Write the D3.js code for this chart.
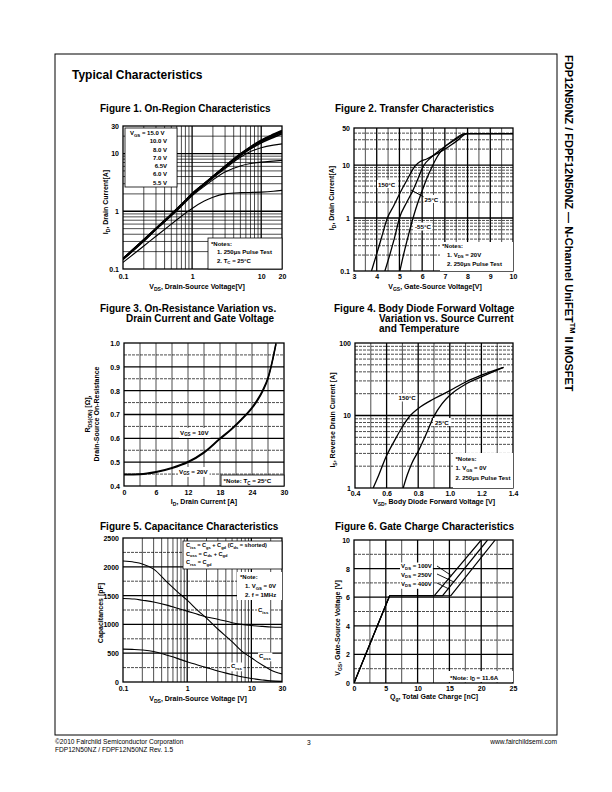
<!DOCTYPE html>
<html><head><meta charset="utf-8">
<script src="https://cdn.jsdelivr.net/npm/d3@7"></script>
<style>
body{margin:0;background:#fff;}
svg{display:block;font-family:"Liberation Sans",Arial,Helvetica,sans-serif;}
</style></head><body>
<svg id="page" width="612" height="792"></svg>
<script>
// ---------------- DATA ----------------
// Figure 1: On-Region Characteristics (log-log)
const fig1Vds  = [0.1,0.2,0.3,0.5,0.7,1,1.5,2,3,5,7,10,15,20];
const fig1Id15 = [0.15,0.32,0.5,0.88,1.3,2.0,3.0,4.0,6.0,9.8,13,17,21.5,25];
const fig1Id10 = [0.15,0.32,0.5,0.88,1.3,2.0,3.0,4.0,6.0,9.7,12.8,16.7,21,24.3];
const fig1Id8  = [0.15,0.32,0.5,0.87,1.29,1.98,2.95,3.95,5.9,9.5,12.5,16.2,20,23.3];
const fig1Id7  = [0.148,0.31,0.49,0.86,1.28,1.96,2.9,3.9,5.8,9.2,12,15.3,19,22];
const fig1Id65 = [0.146,0.31,0.49,0.85,1.26,1.93,2.85,3.75,5.5,8.6,10.8,12.6,14,14.7];
const fig1Id60 = [0.145,0.3,0.48,0.83,1.22,1.85,2.7,3.5,4.8,6.1,6.7,7.1,7.4,7.6];
const fig1Id55 = [0.13,0.25,0.37,0.6,0.82,1.12,1.5,1.75,2.0,2.1,2.12,2.15,2.22,2.3];
const fig1Legend = ["10.0 V","8.0 V","7.0 V","6.5V","6.0 V","5.5 V"];
const fig1XTicks = [0.1,1,10,20];
const fig1YTicks = [0.1,1,10,30];

// Figure 2: Transfer Characteristics
const fig2Vgs150 = [3.77,4.0,4.2,4.47,4.75,5.03,5.35,5.68,5.9,6.2,6.6,7.0,7.5,8.0,10];
const fig2Id150  = [0.1,0.21,0.41,1.0,1.7,3.0,5.4,9.5,11.5,13,16,20,28,39,39];
const fig2Vgs25  = [4.36,4.6,4.8,5.0,5.3,5.56,5.8,6.05,6.4,6.85,7.4,8.0,10];
const fig2Id25   = [0.1,0.22,0.45,1.0,1.9,3.1,5.3,9.5,14,20,29,39,39];
const fig2Vgs55  = [5.02,5.2,5.4,5.6,5.8,5.97,6.2,6.42,6.65,6.9,7.35,7.9,10];
const fig2Id55   = [0.1,0.22,0.48,1.0,1.9,3.0,5.5,9,14,20,29,39,39];
const fig2XTicks = [3,4,5,6,7,8,9,10];
const fig2YTicks = [0.1,1,10,50];

// Figure 3: On-Resistance vs Drain Current
const fig3Id  = [0,3,6,9,12,15,18,20,22,24,25,26,27,27.8,28.5];
const fig3R10 = [0.45,0.451,0.46,0.477,0.502,0.542,0.6,0.637,0.68,0.73,0.762,0.802,0.855,0.925,1.0];
const fig3R20 = [0.447,0.448,0.457,0.474,0.499,0.539,0.597,0.634,0.677,0.726,0.757,0.797,0.85,0.92,0.995];
const fig3XTicks = [0,6,12,18,24,30];
const fig3YTicks = [0.4,0.5,0.6,0.7,0.8,0.9,1.0];

// Figure 4: Body Diode Forward Voltage
const fig4Vsd150 = [0.515,0.55,0.6,0.65,0.7,0.75,0.8,0.9,1.0,1.1,1.2,1.34];
const fig4Is150  = [1,1.5,2.8,4.5,7,10,12.5,17,22,29,36,46];
const fig4Vsd25  = [0.705,0.73,0.76,0.8,0.85,0.9,0.95,1.0,1.1,1.2,1.34];
const fig4Is25   = [1,1.5,2.2,3.2,5.5,9.8,14.5,19,27,34,46];
const fig4XTicks = [0.4,0.6,0.8,1.0,1.2,1.4];
const fig4YTicks = [1,10,100];

// Figure 5: Capacitance Characteristics
const fig5Vds  = [0.1,0.15,0.2,0.3,0.5,0.7,1,1.5,2,3,5,7,10,15,20,30];
const fig5Ciss = [1450,1440,1420,1390,1330,1280,1230,1170,1130,1090,1030,1000,980,965,955,950];
const fig5Coss = [2100,2080,2050,1960,1720,1570,1420,1230,1110,920,700,540,420,290,210,140];
const fig5Crss = [570,565,555,530,460,410,350,290,250,190,130,90,60,35,20,10];
const fig5XTicks = [0.1,1,10,30];
const fig5YTicks = [0,500,1000,1500,2000,2500];

// Figure 6: Gate Charge Characteristics
const fig6Qg100  = [0,5.6,12.6,20.0];
const fig6Vgs100 = [0,6.1,6.1,10];
const fig6Qg250  = [0,5.6,13.9,21.0];
const fig6Vgs250 = [0,6.1,6.1,10];
const fig6Qg400  = [0,5.6,15.2,22.2];
const fig6Vgs400 = [0,6.1,6.1,10];
const fig6XTicks = [0,5,10,15,20,25];
const fig6YTicks = [0,2,4,6,8,10];

// ---------------- HELPERS ----------------
const svg = d3.select("#page");

function rich(t, str, fs) {
  const parts = str.split(/(_\{[^}]*\}|\^\{[^}]*\})/).filter(s => s.length);
  let shift = 0;
  parts.forEach(p => {
    let txt = p, target = 0, size = fs;
    if (p.startsWith("_{")) { txt = p.slice(2, -1); target = fs * 0.3; size = fs * 0.72; }
    else if (p.startsWith("^{")) { txt = p.slice(2, -1); target = -fs * 0.42; size = fs * 0.68; }
    t.append("tspan").attr("dy", target - shift).attr("font-size", size).text(txt);
    shift = target;
  });
  return t;
}
function txt(g, x, y, str, fs, opts = {}) {
  const t = g.append("text").attr("x", x).attr("y", y)
    .attr("font-size", fs).attr("font-weight", opts.weight || "bold")
    .attr("text-anchor", opts.anchor || "start").attr("fill", "#000");
  if (opts.rotate) t.attr("transform", `rotate(${opts.rotate},${x},${y})`);
  rich(t, str, fs);
  return t;
}
function boxTxt(g, x, y, str, fs, pad = 1) {
  const t = txt(g, x, y, str, fs);
  const bb = t.node().getBBox();
  g.insert("rect", () => t.node()).attr("x", bb.x - pad).attr("y", bb.y - 0.5)
    .attr("width", bb.width + 2 * pad).attr("height", bb.height + 1).attr("fill", "#fff");
  return t;
}
function logLines(lo, hi) {
  const out = [];
  for (let k = -3; k <= 4; k++) for (let m = 1; m <= 9; m++) {
    const v = +(m * Math.pow(10, k)).toPrecision(6);
    if (v > lo * 1.0001 && v < hi * 0.9999) out.push(v);
  }
  return out;
}
function range(a, b, s) { const o = []; for (let v = a; v <= b + 1e-9; v += s) o.push(+v.toFixed(6)); return o; }

let clipId = 0;
function panel(c) {
  const g = svg.append("g");
  const x = (c.xlog ? d3.scaleLog() : d3.scaleLinear()).domain(c.xd).range([c.l, c.r]);
  const y = (c.ylog ? d3.scaleLog() : d3.scaleLinear()).domain(c.yd).range([c.b, c.t]);
  const grid = g.append("g");
  const hl = (v, w, dash) => grid.append("line").attr("x1", c.l).attr("x2", c.r).attr("y1", y(v)).attr("y2", y(v))
    .attr("stroke", "#000").attr("stroke-width", w).attr("stroke-dasharray", dash || null);
  const vl = (v, w, dash) => grid.append("line").attr("y1", c.t).attr("y2", c.b).attr("x1", x(v)).attr("x2", x(v))
    .attr("stroke", "#000").attr("stroke-width", w).attr("stroke-dasharray", dash || null);
  (c.vMinor || []).forEach(v => vl(v, 0.7, c.vDash));
  (c.hMinor || []).forEach(v => hl(v, 0.7, c.hDash));
  (c.vMajor || []).forEach(v => vl(v, 1.3));
  (c.hMajor || []).forEach(v => hl(v, 1.3));
  g.append("rect").attr("x", c.l).attr("y", c.t).attr("width", c.r - c.l).attr("height", c.b - c.t)
    .attr("fill", "none").attr("stroke", "#000").attr("stroke-width", 1.3);
  const id = "clip" + (clipId++);
  g.append("clipPath").attr("id", id).append("rect").attr("x", c.l).attr("y", c.t)
    .attr("width", c.r - c.l).attr("height", c.b - c.t);
  const plot = g.append("g").attr("clip-path", `url(#${id})`);
  const ax = g.append("g").attr("transform", `translate(0,${c.b})`)
    .call(d3.axisBottom(x).tickValues(c.xt).tickFormat(c.xf || (d => d)).tickSize(0));
  ax.select(".domain").remove();
  ax.selectAll("text").attr("y", c.xtY - c.b).attr("dy", 0).attr("font-size", 7).attr("font-weight", "bold")
    .attr("font-family", null).attr("fill", "#000");
  const ay = g.append("g").attr("transform", `translate(${c.l},0)`)
    .call(d3.axisLeft(y).tickValues(c.yt).tickFormat(c.yf || (d => d)).tickSize(0));
  ay.select(".domain").remove();
  ay.selectAll("text").attr("x", -(c.ytGap || 4)).attr("dy", "0.35em").attr("font-size", 7).attr("font-weight", "bold")
    .attr("font-family", null).attr("fill", "#000");
  return { g, x, y, plot, c };
}
function curve(p, xs, ys, w = 1.2, interp = d3.curveMonotoneX) {
  const pts = xs.map((v, i) => [v, ys[i]]);
  p.plot.append("path").datum(pts)
    .attr("d", d3.line().x(d => p.x(d[0])).y(d => p.y(d[1])).curve(interp))
    .attr("fill", "none").attr("stroke", "#000").attr("stroke-width", w).attr("stroke-linejoin", "round");
}
function whiteBox(g, x, y, w, h, stroke) {
  return g.append("rect").attr("x", x).attr("y", y).attr("width", w).attr("height", h)
    .attr("fill", "#fff").attr("stroke", stroke ? "#000" : "none").attr("stroke-width", 0.8);
}

// ---------------- PAGE ----------------
svg.append("rect").attr("width", 612).attr("height", 792).attr("fill", "#fff");
svg.append("rect").attr("x", 55).attr("y", 54).attr("width", 502).attr("height", 681)
  .attr("fill", "none").attr("stroke", "#000").attr("stroke-width", 1);
txt(svg, 72, 79, "Typical Characteristics", 12);
{
  const t = svg.append("text").attr("transform", "translate(565,55) rotate(90)")
    .attr("font-size", 11).attr("font-weight", "bold");
  rich(t, "FDP12N50NZ / FDPF12N50NZ — N-Channel UniFET^{TM} II MOSFET", 11);
}
txt(svg, 55, 744, "©2010 Fairchild Semiconductor Corporation", 6.6, { weight: "normal" });
txt(svg, 55, 752, "FDP12N50NZ / FDPF12N50NZ Rev. 1.5", 6.6, { weight: "normal" });
txt(svg, 307, 745, "3", 6.6, { weight: "normal" });
txt(svg, 557, 744, "www.fairchildsemi.com", 6.6, { weight: "normal", anchor: "end" });

// Titles
txt(svg, 100, 112, "Figure 1. On-Region Characteristics", 10);
txt(svg, 335, 112, "Figure 2. Transfer Characteristics", 10);
txt(svg, 100, 312, "Figure 3. On-Resistance Variation vs.", 10);
txt(svg, 126, 322, "Drain Current and Gate Voltage", 10);
txt(svg, 334, 312, "Figure 4. Body Diode Forward Voltage", 10);
txt(svg, 379, 322, "Variation vs. Source Current", 10);
txt(svg, 379, 332, "and Temperature", 10);
txt(svg, 100, 530, "Figure 5. Capacitance Characteristics", 10);
txt(svg, 335, 530, "Figure 6. Gate Charge Characteristics", 10);

// ---------------- FIGURE 1 ----------------
{
  const p = panel({ l: 123, r: 282, t: 126, b: 269, xlog: true, ylog: true, xd: [0.1, 20], yd: [0.1, 30],
    vMinor: logLines(0.1, 20).filter(v => v !== 1 && v !== 10), vMajor: [1, 10],
    hMinor: logLines(0.1, 30).filter(v => v !== 1 && v !== 10), hMajor: [1, 10],
    xt: fig1XTicks, yt: fig1YTicks, xtY: 279 });
  [fig1Id15, fig1Id10, fig1Id8].forEach(s => curve(p, fig1Vds, s, 1.8));
  curve(p, fig1Vds, fig1Id7, 1.5);
  curve(p, fig1Vds, fig1Id65, 1.1);
  curve(p, fig1Vds, fig1Id60, 1.1);
  curve(p, fig1Vds, fig1Id55, 1.1);
  whiteBox(p.g, 125, 128, 52, 59, true);
  txt(p.g, 130, 135, "V_{GS} = 15.0 V", 6);
  fig1Legend.forEach((s, i) => txt(p.g, 167, 143.3 + i * 8.25, s, 6, { anchor: "end" }));
  whiteBox(p.g, 208, 238, 74, 31, true);
  txt(p.g, 211, 245.5, "*Notes:", 6);
  txt(p.g, 217, 254, "1. 250μs Pulse Test", 6);
  txt(p.g, 217, 262.5, "2. T_{C} = 25°C", 6);
  txt(svg, 197, 289, "V_{DS}, Drain-Source Voltage[V]", 7, { anchor: "middle" });
  txt(svg, 107.5, 202, "I_{D}, Drain Current[A]", 7, { anchor: "middle", rotate: -90 });
}

// ---------------- FIGURE 2 ----------------
{
  const p = panel({ l: 354, r: 513, t: 128, b: 271, ylog: true, xd: [3, 10], yd: [0.1, 50],
    vMinor: range(3.5, 9.5, 1), vMajor: range(4, 9, 1),
    hMinor: logLines(0.1, 50).filter(v => v !== 1 && v !== 10), hMajor: [1, 10], hDash: "3,1",
    xt: fig2XTicks, yt: fig2YTicks, xtY: 279 });
  curve(p, fig2Vgs150, fig2Id150, 1.3);
  curve(p, fig2Vgs25, fig2Id25, 1.3);
  curve(p, fig2Vgs55, fig2Id55, 1.3);
  p.g.append("line").attr("x1", 411).attr("y1", 190).attr("x2", 424).attr("y2", 197)
    .attr("stroke", "#000").attr("stroke-width", 1);
  boxTxt(p.g, 378, 186.5, "150°C", 6.2);
  boxTxt(p.g, 424.5, 201.5, "25°C", 6.2);
  boxTxt(p.g, 415, 229, "-55°C", 6.2);
  whiteBox(p.g, 440, 242, 73, 29, false);
  txt(p.g, 442, 248, "*Notes:", 6);
  txt(p.g, 447, 256.5, "1. V_{DS} = 20V", 6);
  txt(p.g, 447, 265.5, "2. 250μs Pulse Test", 6);
  txt(svg, 435, 289, "V_{GS}, Gate-Source Voltage[V]", 7, { anchor: "middle" });
  txt(svg, 334, 198, "I_{D}, Drain Current[A]", 7, { anchor: "middle", rotate: -90 });
}

// ---------------- FIGURE 3 ----------------
{
  const p = panel({ l: 124, r: 284, t: 343, b: 486, xd: [0, 30], yd: [0.4, 1.0],
    vMinor: range(3, 27, 3), vMajor: [],
    hMinor: range(0.45, 0.95, 0.1), hMajor: range(0.5, 0.9, 0.1), hDash: "3,1",
    xt: fig3XTicks, yt: fig3YTicks, yf: d3.format(".1f"), xtY: 495 });
  curve(p, fig3Id, fig3R10, 1.4);
  curve(p, fig3Id, fig3R20, 1.4);
  boxTxt(p.g, 180, 434.5, "V_{GS} = 10V", 6.2);
  boxTxt(p.g, 179, 473.5, "V_{GS} = 20V", 6.2);
  whiteBox(p.g, 221, 475, 63, 11, true);
  txt(p.g, 223.5, 483, "*Note: T_{C} = 25°C", 6.2);
  txt(svg, 204, 504, "I_{D}, Drain Current [A]", 7, { anchor: "middle" });
  txt(svg, 90, 414, "R_{DS(ON)} [Ω],", 7, { anchor: "middle", rotate: -90 });
  txt(svg, 98.5, 414, "Drain-Source On-Resistance", 7, { anchor: "middle", rotate: -90 });
}

// ---------------- FIGURE 4 ----------------
{
  const p = panel({ l: 355, r: 513, t: 343, b: 488, ylog: true, xd: [0.4, 1.4], yd: [1, 100],
    vMinor: [0.5, 0.7, 0.9, 1.1, 1.3], vMajor: [0.6, 0.8, 1.0, 1.2],
    hMinor: logLines(1, 100).filter(v => v !== 10), hMajor: [10], hDash: "3,1",
    xt: fig4XTicks, yt: fig4YTicks, xf: d3.format(".1f"), xtY: 496 });
  curve(p, fig4Vsd150, fig4Is150, 1.3);
  curve(p, fig4Vsd25, fig4Is25, 1.3);
  boxTxt(p.g, 398.5, 400, "150°C", 6.2);
  boxTxt(p.g, 435, 424.5, "25°C", 6.2, 2);
  whiteBox(p.g, 453, 453, 60, 35, false);
  txt(p.g, 455.5, 460.5, "*Notes:", 6);
  txt(p.g, 455.5, 470, "1. V_{GS} = 0V", 6);
  txt(p.g, 455.5, 480, "2. 250μs Pulse Test", 6);
  txt(svg, 434, 504, "V_{SD}, Body Diode Forward Voltage [V]", 7, { anchor: "middle" });
  txt(svg, 335, 420, "I_{S}, Reverse Drain Current [A]", 7, { anchor: "middle", rotate: -90 });
}

// ---------------- FIGURE 5 ----------------
{
  const p = panel({ l: 123, r: 282, t: 538, b: 682, xlog: true, xd: [0.1, 30], yd: [0, 2500],
    vMinor: logLines(0.1, 30).filter(v => v !== 1 && v !== 10), vMajor: [1, 10],
    hMinor: range(250, 2250, 500), hMajor: range(500, 2000, 500), hDash: "3,1",
    xt: fig5XTicks, yt: fig5YTicks, xtY: 691 });
  curve(p, fig5Vds, fig5Ciss, 1.1);
  curve(p, fig5Vds, fig5Coss, 1.1);
  curve(p, fig5Vds, fig5Crss, 1.1);
  whiteBox(p.g, 183, 541, 99, 28, true);
  txt(p.g, 186, 547, "C_{iss} = C_{gs} + C_{gd} (C_{ds} = shorted)", 5.6);
  txt(p.g, 186, 555.5, "C_{oss} = C_{ds} + C_{gd}", 5.6);
  txt(p.g, 186, 564, "C_{rss} = C_{gd}", 5.6);
  whiteBox(p.g, 237, 572, 45, 28, false);
  txt(p.g, 240, 579, "*Note:", 6);
  txt(p.g, 245, 588, "1. V_{GS} = 0V", 6);
  txt(p.g, 245, 597, "2. f = 1MHz", 6);
  boxTxt(p.g, 258, 612, "C_{iss}", 6);
  boxTxt(p.g, 259, 658, "C_{oss}", 6);
  boxTxt(p.g, 231, 668, "C_{rss}", 6);
  txt(svg, 198, 701, "V_{DS}, Drain-Source Voltage [V]", 7, { anchor: "middle" });
  txt(svg, 102.5, 613, "Capacitances [pF]", 7, { anchor: "middle", rotate: -90 });
}

// ---------------- FIGURE 6 ----------------
{
  const p = panel({ l: 354, r: 513, t: 540, b: 683, xd: [0, 25], yd: [0, 10],
    vMinor: [2.5, 7.5, 12.5, 17.5, 22.5], vMajor: [5, 10, 15, 20],
    hMinor: [1, 3, 5, 7, 9], hMajor: [2, 4, 6, 8], hDash: "3,1",
    xt: fig6XTicks, yt: fig6YTicks, xtY: 691 });
  curve(p, fig6Qg100, fig6Vgs100, 1.2, d3.curveLinear);
  curve(p, fig6Qg250, fig6Vgs250, 1.2, d3.curveLinear);
  curve(p, fig6Qg400, fig6Vgs400, 1.2, d3.curveLinear);
  boxTxt(p.g, 401, 568, "V_{DS} = 100V", 6);
  boxTxt(p.g, 401, 576.5, "V_{DS} = 250V", 6);
  boxTxt(p.g, 401, 585.5, "V_{DS} = 400V", 6);
  const arr = [[437, 566, 452, 576], [437, 574, 454, 582], [437, 583, 449, 589]];
  arr.forEach(a => p.g.append("line").attr("x1", a[0]).attr("y1", a[1]).attr("x2", a[2]).attr("y2", a[3])
    .attr("stroke", "#000").attr("stroke-width", 0.9));
  whiteBox(p.g, 448, 671, 65, 11, false);
  txt(p.g, 450, 679.5, "*Note: I_{D} = 11.6A", 6.2);
  txt(svg, 434, 699, "Q_{g}, Total Gate Charge [nC]", 7, { anchor: "middle" });
  txt(svg, 340, 628, "V_{GS}, Gate-Source Voltage [V]", 7, { anchor: "middle", rotate: -90 });
}
</script>
</body></html>
